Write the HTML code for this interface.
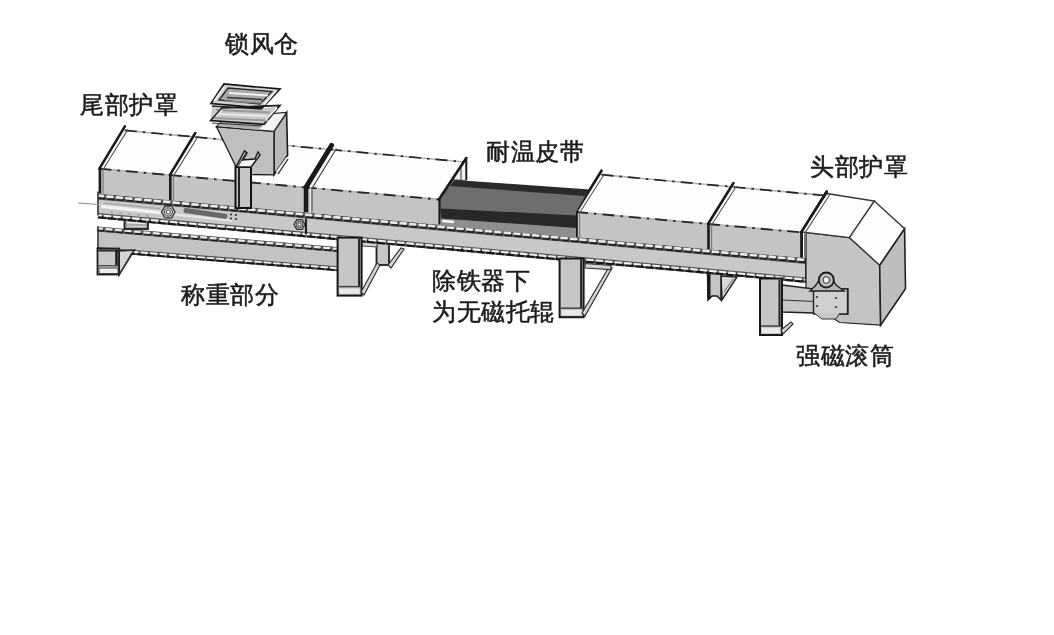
<!DOCTYPE html>
<html><head><meta charset="utf-8"><style>
html,body{margin:0;padding:0;background:#fff;width:1054px;height:635px;overflow:hidden}
svg{position:absolute;left:0;top:0;filter:blur(0.45px)}
.t{position:absolute;font-family:"Liberation Sans",sans-serif;font-size:24px;line-height:28px;color:#1c1c1c;white-space:nowrap;letter-spacing:0.6px;-webkit-text-stroke:0.55px #1c1c1c;will-change:transform;filter:blur(0.35px)}
</style></head><body>
<svg width="1054" height="635" viewBox="0 0 1054 635">
<polygon points="97.0,226.5 337.0,247.1 337.0,268.7 97.0,249.5" fill="#c3c3c3"/>
<line x1="97.0" y1="229.0" x2="337.0" y2="249.6" stroke="#555" stroke-width="5" />
<line x1="97.0" y1="230.2" x2="337.0" y2="250.8" stroke="#222" stroke-width="2.0" stroke-dasharray="7 2.5"/>
<line x1="97.0" y1="228.3" x2="337.0" y2="248.9" stroke="#e8e8e8" stroke-width="2.25" stroke-dasharray="5 4.5" stroke-linecap="round"/>
<line x1="97.0" y1="249.5" x2="337.0" y2="268.7" stroke="#555" stroke-width="5" />
<line x1="97.0" y1="250.8" x2="337.0" y2="269.9" stroke="#161616" stroke-width="2.25" stroke-dasharray="8 2"/>
<line x1="97.0" y1="249.0" x2="337.0" y2="268.2" stroke="#eeeeee" stroke-width="1.9" stroke-dasharray="6 3.5" stroke-dashoffset="3" stroke-linecap="round"/>
<line x1="98.0" y1="226.5" x2="98.0" y2="249.5" stroke="#333" stroke-width="1.5" />
<polygon points="119,251 134.5,250 119,275" fill="#d4d4d4" stroke="#222" stroke-width="1.5"/>
<line x1="121.0" y1="271.0" x2="132.0" y2="252.0" stroke="#555" stroke-width="1" />
<rect x="97.5" y="248.5" width="21.5" height="26" fill="#c8c8c8" stroke="#1e1e1e" stroke-width="1.8"/>
<line x1="98.5" y1="250.5" x2="118.0" y2="250.5" stroke="#333" stroke-width="2.2" />
<line x1="116.5" y1="250.0" x2="116.5" y2="266.0" stroke="#1a1a1a" stroke-width="2.5" />
<rect x="99" y="268" width="19" height="5.5" fill="#eeeeee" stroke="#444" stroke-width="1"/>
<line x1="98.5" y1="265.7" x2="118.0" y2="265.7" stroke="#444" stroke-width="1.3" />
<rect x="124.5" y="219" width="23.5" height="10" fill="#a6a6a6" stroke="#1e1e1e" stroke-width="1.8"/>
<line x1="127" y1="222.5" x2="145" y2="223.5" stroke="#eee" stroke-width="1.4"/>
<line x1="127" y1="226" x2="145" y2="226.5" stroke="#ddd" stroke-width="1.2"/>
<rect x="376.5" y="240" width="12.5" height="25" fill="#c6c6c6" stroke="#1e1e1e" stroke-width="1.8"/>
<polygon points="362,240 377,241 377,247 362,246" fill="#d0d0d0" stroke="#444" stroke-width="1"/>
<polygon points="721,276 737,277 722,300" fill="#d8d8d8" stroke="#222" stroke-width="1.5"/>
<line x1="724.0" y1="292.0" x2="733.0" y2="279.0" stroke="#666" stroke-width="1" />
<polygon points="707.5,273 721,274 721,300 717,296 712,296 708,300" fill="#c6c6c6" stroke="#1a1a1a" stroke-width="1.5"/>
<line x1="709.0" y1="274.0" x2="709.0" y2="299.0" stroke="#1a1a1a" stroke-width="3" />
<polygon points="98.0,193.5 806.0,257.9 806.0,279.9 98.0,215.5" fill="#c8c8c8"/>
<line x1="98.0" y1="196.5" x2="806.0" y2="260.9" stroke="#555" stroke-width="6" />
<line x1="98.0" y1="197.7" x2="806.0" y2="262.1" stroke="#222" stroke-width="2.4000000000000004" stroke-dasharray="7 2.5"/>
<line x1="98.0" y1="195.7" x2="806.0" y2="260.0" stroke="#e8e8e8" stroke-width="2.7" stroke-dasharray="5 4.5" stroke-linecap="round"/>
<line x1="98.0" y1="215.7" x2="806.0" y2="280.2" stroke="#555" stroke-width="5.5" />
<line x1="98.0" y1="217.1" x2="806.0" y2="281.5" stroke="#161616" stroke-width="2.475" stroke-dasharray="8 2"/>
<line x1="98.0" y1="215.2" x2="806.0" y2="279.6" stroke="#eeeeee" stroke-width="2.09" stroke-dasharray="6 3.5" stroke-dashoffset="3" stroke-linecap="round"/>
<line x1="98.0" y1="191.5" x2="98.0" y2="215.5" stroke="#333" stroke-width="1.6" />
<line x1="806.0" y1="257.9" x2="806.0" y2="282.9" stroke="#222" stroke-width="1.8" />
<line x1="101.0" y1="206.3" x2="165.0" y2="213.1" stroke="#f4f4f4" stroke-width="3.2" />
<line x1="160.0" y1="213.1" x2="232.0" y2="220.7" stroke="#e6e6e6" stroke-width="2" />
<line x1="104.0" y1="203.1" x2="160.0" y2="208.6" stroke="#a0a0a0" stroke-width="1" />
<line x1="110.0" y1="212.1" x2="150.0" y2="216.2" stroke="#9a9a9a" stroke-width="1.2" stroke-dasharray="3 6"/>
<line x1="78.0" y1="203.0" x2="99.0" y2="204.5" stroke="#888" stroke-width="1" />
<line x1="186.0" y1="210.5" x2="225.0" y2="216.3" stroke="#686868" stroke-width="5" stroke-linecap="round"/>
<circle cx="231" cy="214.5" r="1" fill="#222"/>
<circle cx="236" cy="215" r="1" fill="#222"/>
<circle cx="231" cy="218.5" r="1" fill="#222"/>
<circle cx="236" cy="219" r="1" fill="#222"/>
<polygon points="175.1,212.0 171.7,217.9 164.9,217.9 161.5,212.0 164.9,206.1 171.7,206.1" fill="#d0d0d0" stroke="#333" stroke-width="1.3"/>
<circle cx="168.3" cy="212" r="4.2" fill="#c8c8c8" stroke="#444" stroke-width="1"/><circle cx="168.3" cy="212" r="2.0" fill="#fafafa" stroke="#333" stroke-width="0.9"/>
<polygon points="305.0,224.5 302.2,229.3 296.8,229.3 294.0,224.5 296.8,219.7 302.2,219.7" fill="#d0d0d0" stroke="#333" stroke-width="1.3"/>
<circle cx="299.5" cy="224.5" r="3.4" fill="#c8c8c8" stroke="#444" stroke-width="1"/><circle cx="299.5" cy="224.5" r="1.6" fill="#fafafa" stroke="#333" stroke-width="0.9"/>
<line x1="306.0" y1="218.4" x2="306.0" y2="234.4" stroke="#222" stroke-width="2.2" />
<polygon points="99.4,168.7 169.8,175.1 169.8,200.0 99.4,193.6" fill="#c4c4c4"/>
<polygon points="99.4,168.7 169.8,175.1 195.3,137.0 124.9,130.4" fill="#fdfdfd"/>
<line x1="99.4" y1="168.7" x2="169.8" y2="175.1" stroke="#b4b4b4" stroke-width="1.8" />
<line x1="99.4" y1="168.7" x2="169.8" y2="175.1" stroke="#262626" stroke-width="1.8" stroke-dasharray="12 6 2.5 6"/>
<line x1="124.9" y1="130.4" x2="195.3" y2="137.0" stroke="#b4b4b4" stroke-width="1.7" />
<line x1="124.9" y1="130.4" x2="195.3" y2="137.0" stroke="#262626" stroke-width="1.7" stroke-dasharray="12 6 2.5 6"/>
<polygon points="169.8,175.1 304.5,187.3 304.5,212.3 169.8,200.0" fill="#c4c4c4"/>
<polygon points="169.8,175.1 304.5,187.3 330.0,149.5 195.3,137.0" fill="#fdfdfd"/>
<line x1="169.8" y1="175.1" x2="304.5" y2="187.3" stroke="#b4b4b4" stroke-width="1.8" />
<line x1="169.8" y1="175.1" x2="304.5" y2="187.3" stroke="#262626" stroke-width="1.8" stroke-dasharray="12 6 2.5 6"/>
<line x1="195.3" y1="137.0" x2="330.0" y2="149.5" stroke="#b4b4b4" stroke-width="1.7" />
<line x1="195.3" y1="137.0" x2="330.0" y2="149.5" stroke="#262626" stroke-width="1.7" stroke-dasharray="12 6 2.5 6"/>
<polygon points="304.5,187.3 438.9,199.5 438.9,224.5 304.5,212.3" fill="#c4c4c4"/>
<polygon points="304.5,187.3 438.9,199.5 464.4,162.0 330.0,149.5" fill="#fdfdfd"/>
<line x1="304.5" y1="187.3" x2="438.9" y2="199.5" stroke="#b4b4b4" stroke-width="1.8" />
<line x1="304.5" y1="187.3" x2="438.9" y2="199.5" stroke="#262626" stroke-width="1.8" stroke-dasharray="12 6 2.5 6"/>
<line x1="330.0" y1="149.5" x2="464.4" y2="162.0" stroke="#b4b4b4" stroke-width="1.7" />
<line x1="330.0" y1="149.5" x2="464.4" y2="162.0" stroke="#262626" stroke-width="1.7" stroke-dasharray="12 6 2.5 6"/>
<polygon points="576.0,212.0 708.0,224.0 708.0,249.0 576.0,237.0" fill="#c4c4c4"/>
<polygon points="576.0,212.0 708.0,224.0 733.5,187.0 601.5,174.7" fill="#fdfdfd"/>
<line x1="576.0" y1="212.0" x2="708.0" y2="224.0" stroke="#b4b4b4" stroke-width="1.8" />
<line x1="576.0" y1="212.0" x2="708.0" y2="224.0" stroke="#262626" stroke-width="1.8" stroke-dasharray="12 6 2.5 6"/>
<line x1="601.5" y1="174.7" x2="733.5" y2="187.0" stroke="#b4b4b4" stroke-width="1.7" />
<line x1="601.5" y1="174.7" x2="733.5" y2="187.0" stroke="#262626" stroke-width="1.7" stroke-dasharray="12 6 2.5 6"/>
<polygon points="708.0,224.0 801.2,232.4 801.2,257.4 708.0,249.0" fill="#c4c4c4"/>
<polygon points="708.0,224.0 801.2,232.4 826.7,195.7 733.5,187.0" fill="#fdfdfd"/>
<line x1="708.0" y1="224.0" x2="801.2" y2="232.4" stroke="#b4b4b4" stroke-width="1.8" />
<line x1="708.0" y1="224.0" x2="801.2" y2="232.4" stroke="#262626" stroke-width="1.8" stroke-dasharray="12 6 2.5 6"/>
<line x1="733.5" y1="187.0" x2="826.7" y2="195.7" stroke="#b4b4b4" stroke-width="1.7" />
<line x1="733.5" y1="187.0" x2="826.7" y2="195.7" stroke="#262626" stroke-width="1.7" stroke-dasharray="12 6 2.5 6"/>
<line x1="99.4" y1="168.7" x2="124.9" y2="126.4" stroke="#1a1a1a" stroke-width="2.6" stroke-linecap="round"/>
<line x1="102.9" y1="169.7" x2="127.9" y2="129.4" stroke="#555" stroke-width="1.1" />
<line x1="99.9" y1="167.7" x2="99.9" y2="193.6" stroke="#1a1a1a" stroke-width="2.6" />
<line x1="103.0" y1="169.7" x2="103.0" y2="193.6" stroke="#777" stroke-width="1.1" />
<line x1="169.8" y1="175.1" x2="195.3" y2="133.0" stroke="#1a1a1a" stroke-width="2.6" stroke-linecap="round"/>
<line x1="173.3" y1="176.1" x2="198.3" y2="136.0" stroke="#555" stroke-width="1.1" />
<line x1="170.3" y1="174.1" x2="170.3" y2="200.0" stroke="#1a1a1a" stroke-width="2.6" />
<line x1="173.4" y1="176.1" x2="173.4" y2="200.0" stroke="#777" stroke-width="1.1" />
<line x1="306.0" y1="187.3" x2="331.5" y2="145.5" stroke="#1a1a1a" stroke-width="5" stroke-linecap="round"/>
<line x1="310.5" y1="188.3" x2="335.0" y2="148.5" stroke="#f4f4f4" stroke-width="1.2" />
<line x1="312.0" y1="188.3" x2="336.5" y2="148.5" stroke="#444" stroke-width="1.2" />
<line x1="306.0" y1="186.3" x2="306.0" y2="212.3" stroke="#1a1a1a" stroke-width="4.5" />
<line x1="310.5" y1="188.3" x2="310.5" y2="212.3" stroke="#eee" stroke-width="1.2" />
<line x1="312.0" y1="188.3" x2="312.0" y2="212.3" stroke="#555" stroke-width="1.2" />
<line x1="576.0" y1="212.0" x2="601.5" y2="170.7" stroke="#1a1a1a" stroke-width="2.6" stroke-linecap="round"/>
<line x1="579.5" y1="213.0" x2="604.5" y2="173.7" stroke="#555" stroke-width="1.1" />
<line x1="576.5" y1="211.0" x2="576.5" y2="237.0" stroke="#1a1a1a" stroke-width="2.6" />
<line x1="579.6" y1="213.0" x2="579.6" y2="237.0" stroke="#777" stroke-width="1.1" />
<line x1="708.0" y1="224.0" x2="733.5" y2="183.0" stroke="#1a1a1a" stroke-width="2.6" stroke-linecap="round"/>
<line x1="711.5" y1="225.0" x2="736.5" y2="186.0" stroke="#555" stroke-width="1.1" />
<line x1="708.5" y1="223.0" x2="708.5" y2="249.0" stroke="#1a1a1a" stroke-width="2.6" />
<line x1="711.6" y1="225.0" x2="711.6" y2="249.0" stroke="#777" stroke-width="1.1" />
<line x1="801.2" y1="232.4" x2="826.7" y2="191.7" stroke="#1a1a1a" stroke-width="2.6" stroke-linecap="round"/>
<line x1="804.7" y1="233.4" x2="829.7" y2="194.7" stroke="#555" stroke-width="1.1" />
<line x1="801.7" y1="231.4" x2="801.7" y2="257.4" stroke="#1a1a1a" stroke-width="2.6" />
<line x1="804.8" y1="233.4" x2="804.8" y2="257.4" stroke="#777" stroke-width="1.1" />
<polygon points="438.9,199.5 464.0,161.0 466.5,158.0 466.5,181.0 588.0,191.0 576.0,212.0 576.0,234.0 441.0,221.0" fill="#6e6e6e"/>
<polygon points="455.0,180.0 590.0,189.5 585.0,196.0 450.0,186.0" fill="#2a2a2a"/>
<polygon points="441.0,208.5 576.0,215.5 576.0,228.5 441.0,219.0" fill="#282828"/>
<polygon points="441.0,218.5 576.0,228.0 576.0,238.0 441.0,225.7" fill="#8e8e8e"/>
<line x1="442.0" y1="221.0" x2="454.0" y2="222.0" stroke="#f0f0f0" stroke-width="2.5" />
<polygon points="458.0,170.0 466.5,158.0 466.5,180.0 452.0,179.0" fill="#f2f2f2"/>
<line x1="466.3" y1="158.0" x2="466.3" y2="180.0" stroke="#1a1a1a" stroke-width="2" />
<line x1="461.0" y1="166.0" x2="461.0" y2="180.0" stroke="#333" stroke-width="1" />
<line x1="438.9" y1="199.5" x2="466.3" y2="158.0" stroke="#1a1a1a" stroke-width="2.6" stroke-linecap="round"/>
<line x1="439.5" y1="199.5" x2="439.5" y2="224.5" stroke="#1a1a1a" stroke-width="2.2" />
<polygon points="801.2,232.0 849.4,237.6 879.7,265.2 880.6,325.2 839.6,322.5 806.0,300.0 806.0,232.0" fill="#c4c4c4" stroke="#222" stroke-width="1.2"/>
<polygon points="826.7,193.5 874.3,201.1 849.4,237.6 801.2,232.0" fill="#fdfdfd" stroke="#333" stroke-width="1.3"/>
<polygon points="874.3,201.1 904.6,228.7 879.7,265.2 849.4,237.6" fill="#fdfdfd" stroke="#333" stroke-width="1.3"/>
<polygon points="904.6,228.7 905.5,288.7 880.6,325.2 879.7,265.2" fill="#bebebe" stroke="#222" stroke-width="1.6"/>
<line x1="801.2" y1="232.4" x2="826.7" y2="191.7" stroke="#1a1a1a" stroke-width="2.6" stroke-linecap="round"/>
<line x1="804.7" y1="233.4" x2="829.7" y2="194.7" stroke="#555" stroke-width="1.1" />
<line x1="801.7" y1="231.4" x2="801.7" y2="257.4" stroke="#1a1a1a" stroke-width="2.6" />
<line x1="804.8" y1="233.4" x2="804.8" y2="257.4" stroke="#777" stroke-width="1.1" />
<rect x="337.6" y="237.6" width="24.0" height="58.00000000000003" fill="#c6c6c6" stroke="#161616" stroke-width="2"/>
<line x1="359.1" y1="238.6" x2="359.1" y2="286.6" stroke="#222" stroke-width="2" />
<line x1="338.6" y1="286.6" x2="360.6" y2="286.6" stroke="#444" stroke-width="1.5" />
<rect x="339.6" y="288.6" width="20.0" height="5" fill="#eaeaea"/>
<polygon points="361,292 377,263 380,265 364,295" fill="#d6d6d6" stroke="#333" stroke-width="1.2"/>
<polygon points="388,265 401,248 404,249 391,268" fill="#d6d6d6" stroke="#333" stroke-width="1.2"/>
<rect x="559.6" y="258.5" width="24.0" height="58.69999999999999" fill="#c6c6c6" stroke="#161616" stroke-width="2"/>
<line x1="581.1" y1="259.5" x2="581.1" y2="308.2" stroke="#222" stroke-width="2" />
<line x1="560.6" y1="308.2" x2="582.6" y2="308.2" stroke="#444" stroke-width="1.5" />
<rect x="561.6" y="310.2" width="20.0" height="5" fill="#eaeaea"/>
<polygon points="582,313 609,267 612,268 585,316" fill="#d6d6d6" stroke="#333" stroke-width="1.2"/>
<polygon points="585,263.5 611,265.5 611,269.5 585,268" fill="#d2d2d2" stroke="#333" stroke-width="1.2"/>
<polygon points="782.0,285.0 814.0,289.0 848.0,289.0 848.0,314.0 814.0,313.0 782.0,312.0" fill="#c8c8c8" stroke="#222" stroke-width="1.3"/>
<line x1="782.0" y1="300.0" x2="848.0" y2="303.0" stroke="#333" stroke-width="1.2" />
<rect x="813.5" y="289" width="34" height="25" fill="#cfcfcf" stroke="#222" stroke-width="1.4"/>
<circle cx="817" cy="297" r="1.1" fill="#333"/>
<circle cx="836" cy="298" r="1.1" fill="#333"/>
<circle cx="817" cy="306" r="1.1" fill="#333"/>
<circle cx="836" cy="307" r="1.1" fill="#333"/>
<path d="M810,291 L816,285 Q826,266 836,285 L844,291 Z" fill="#b8b8b8" stroke="#222" stroke-width="1.4"/>
<circle cx="826.3" cy="280" r="7.5" fill="#bdbdbd" stroke="#1a1a1a" stroke-width="1.8"/><circle cx="826.3" cy="280" r="3.3" fill="#eee" stroke="#333" stroke-width="1"/>
<path d="M814,313 L822,319 L836,319 L840,313" fill="#c8c8c8" stroke="#333" stroke-width="1"/>
<rect x="760" y="278.5" width="22" height="56.5" fill="#c6c6c6" stroke="#161616" stroke-width="2"/>
<line x1="779.5" y1="279.5" x2="779.5" y2="326.0" stroke="#222" stroke-width="2" />
<line x1="761.0" y1="326.0" x2="781.0" y2="326.0" stroke="#444" stroke-width="1.5" />
<rect x="762" y="328" width="18" height="5" fill="#eaeaea"/>
<polygon points="781,330 791,322 793,324 783,334" fill="#d6d6d6" stroke="#333" stroke-width="1.2"/>
<polygon points="274.0,131.4 286.6,112.5 287.6,155.3 274.0,174.8" fill="#b8b8b8" stroke="#1a1a1a" stroke-width="1.6"/>
<line x1="276.5" y1="172.0" x2="287.0" y2="157.5" stroke="#f4f4f4" stroke-width="1.3" />
<line x1="278.0" y1="174.0" x2="288.0" y2="159.0" stroke="#222" stroke-width="1.3" />
<polygon points="216.5,126.7 274.0,131.4 274.0,174.8 251.0,174.5 251.0,167.0 235.6,166.0" fill="#bfbfbf" stroke="#1a1a1a" stroke-width="1.3"/>
<polygon points="216.5,126.7 226.0,117.0 286.6,112.5 274.0,131.4" fill="#f4f4f4" stroke="#222" stroke-width="1.2"/>
<polygon points="218.0,126.0 222.0,122.0 262.0,125.0 258.0,130.0" fill="#b0b0b0"/>
<polygon points="212.0,106.0 262.0,108.0 276.0,107.0 264.0,124.3 210.7,120.5" fill="#cacaca"/>
<polygon points="211.0,103.5 224.0,84.0 280.0,89.0 262.0,108.0" fill="#d0d0d0" stroke="#161616" stroke-width="1.7"/>
<polygon points="219.0,100.0 228.0,88.0 272.0,91.5 260.0,104.0" fill="#a8a8a8" stroke="#222" stroke-width="1.3"/>
<line x1="229.0" y1="93.0" x2="268.0" y2="95.5" stroke="#f2f2f2" stroke-width="2" />
<line x1="227.0" y1="97.5" x2="262.0" y2="99.5" stroke="#333" stroke-width="1.4" />
<line x1="224.0" y1="101.0" x2="262.0" y2="103.0" stroke="#8a8a8a" stroke-width="1.6" />
<line x1="214.0" y1="101.0" x2="224.0" y2="87.0" stroke="#f4f4f4" stroke-width="1.6" />
<line x1="264.0" y1="105.0" x2="276.0" y2="91.0" stroke="#f4f4f4" stroke-width="1.6" />
<line x1="212.0" y1="106.0" x2="262.0" y2="109.0" stroke="#222" stroke-width="1.6" />
<line x1="216.0" y1="110.0" x2="270.0" y2="112.5" stroke="#9a9a9a" stroke-width="2.2" />
<line x1="218.0" y1="114.0" x2="266.0" y2="116.0" stroke="#eeeeee" stroke-width="1.6" />
<polygon points="210.7,120.5 222.0,108.0 280.0,105.4 264.0,124.3" fill="none" stroke="#161616" stroke-width="1.7"/>
<line x1="214.0" y1="118.0" x2="268.0" y2="120.5" stroke="#999" stroke-width="1.8" />
<line x1="216.0" y1="116.5" x2="222.0" y2="110.0" stroke="#f0f0f0" stroke-width="1.4" />
<line x1="266.0" y1="120.0" x2="277.0" y2="108.0" stroke="#f0f0f0" stroke-width="1.4" />
<line x1="212.0" y1="123.0" x2="262.0" y2="126.0" stroke="#333" stroke-width="1.2" />
<rect x="235.5" y="167" width="15.5" height="41" fill="#c6c6c6" stroke="#111" stroke-width="2"/>
<line x1="239.0" y1="168.0" x2="239.0" y2="207.0" stroke="#222" stroke-width="2" />
<polygon points="236.0,167.0 244.5,151.0 247.0,153.0 243.0,160.0 255.0,159.0 258.0,152.0 260.0,155.0 251.0,167.0" fill="#f6f6f6" stroke="#1a1a1a" stroke-width="1.5"/>
<line x1="238.0" y1="166.0" x2="246.0" y2="153.0" stroke="#333" stroke-width="1.2" />
</svg>
<div class="t" style="left:225px;top:30px">锁风仓</div>
<div class="t" style="left:80px;top:91px">尾部护罩</div>
<div class="t" style="left:486px;top:138px">耐温皮带</div>
<div class="t" style="left:810px;top:153px">头部护罩</div>
<div class="t" style="left:181px;top:281px">称重部分</div>
<div class="t" style="left:432px;top:267px">除铁器下</div>
<div class="t" style="left:432px;top:298px">为无磁托辊</div>
<div class="t" style="left:796px;top:342px">强磁滚筒</div>
</body></html>
